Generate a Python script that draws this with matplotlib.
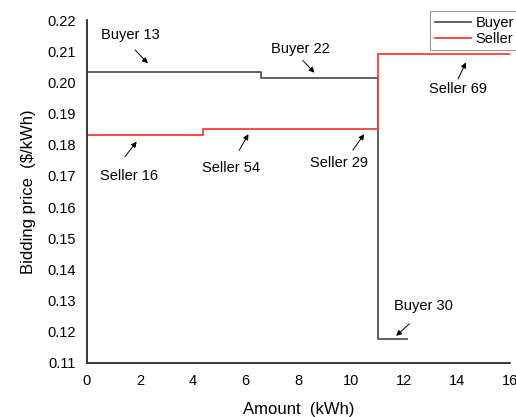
import matplotlib
matplotlib.use("Agg")
import matplotlib.pyplot as plt

plt.rcParams['font.family'] = ['Liberation Sans', 'DejaVu Sans']

# step curves of the double auction (amount in kWh, price in $/kWh)
buyer_x = [0, 6.6, 11.0, 12.1]
buyer_price = [0.2032, 0.2015, 0.1177]
seller_x = [0, 4.4, 11.0, 16.0]
seller_price = [0.1831, 0.1852, 0.2090]

# (label, text position, arrow tail, arrow head)
notes = [
    ("Buyer 13", (1.63, 0.2152), (1.82, 0.2104), (2.30, 0.2061)),
    ("Buyer 22", (8.09, 0.2106), (8.17, 0.2070), (8.61, 0.2031)),
    ("Seller 69", (14.03, 0.1978), (14.04, 0.2011), (14.34, 0.2064)),
    ("Seller 16", (1.60, 0.1701), (1.44, 0.1762), (1.88, 0.1810)),
    ("Seller 54", (5.44, 0.1725), (5.76, 0.1782), (6.11, 0.1834)),
    ("Seller 29", (9.52, 0.1743), (10.06, 0.1783), (10.49, 0.1834)),
    ("Buyer 30", (12.74, 0.1283), (12.20, 0.1226), (11.70, 0.1187)),
]

fig = plt.figure(figsize=(5.16, 4.17), dpi=100)
ax = fig.add_axes([0.1686, 0.1295, 0.8194, 0.8225])

ax.step(buyer_x, buyer_price + buyer_price[-1:], where='post',
        color='#555555', lw=1.3, label='Buyer')
ax.step(seller_x, seller_price + seller_price[-1:], where='post',
        color='#ff3b3b', lw=1.3, label='Seller')

for label, txt, tail, head in notes:
    ax.text(txt[0], txt[1], label, ha='center', va='center', fontsize=10.5)
    ax.annotate('', xy=head, xytext=tail,
                arrowprops=dict(arrowstyle='-|>', color='black', lw=0.7,
                                mutation_scale=8, shrinkA=0, shrinkB=0))

ax.set_xlim(0, 16)
ax.set_ylim(0.11, 0.22)
ax.set_xticks(range(0, 17, 2))
ax.set_yticks([0.11 + 0.01 * i for i in range(12)])
ax.set_yticklabels([f'{0.11 + 0.01 * i:.2f}' for i in range(12)])
ax.tick_params(length=0, labelsize=10.5, pad=8)

for side in ['top', 'right']:
    ax.spines[side].set_visible(False)
for side in ['left', 'bottom']:
    ax.spines[side].set_color('#2a2a2a')
    ax.spines[side].set_linewidth(1.3)

ax.set_xlabel('Amount  (kWh)', fontsize=12, labelpad=10)
ax.set_ylabel('Bidding price  (\\$/kWh)', fontsize=12, labelpad=8)

leg = ax.legend(loc='upper right', bbox_to_anchor=(1.02, 1.025), fontsize=10.5,
                fancybox=False, framealpha=1, edgecolor='#999999',
                handlelength=2.5, handletextpad=0.3, borderpad=0.3,
                labelspacing=0.15, borderaxespad=0)
leg.get_frame().set_linewidth(0.8)

fig.savefig('out.png', dpi=100)
